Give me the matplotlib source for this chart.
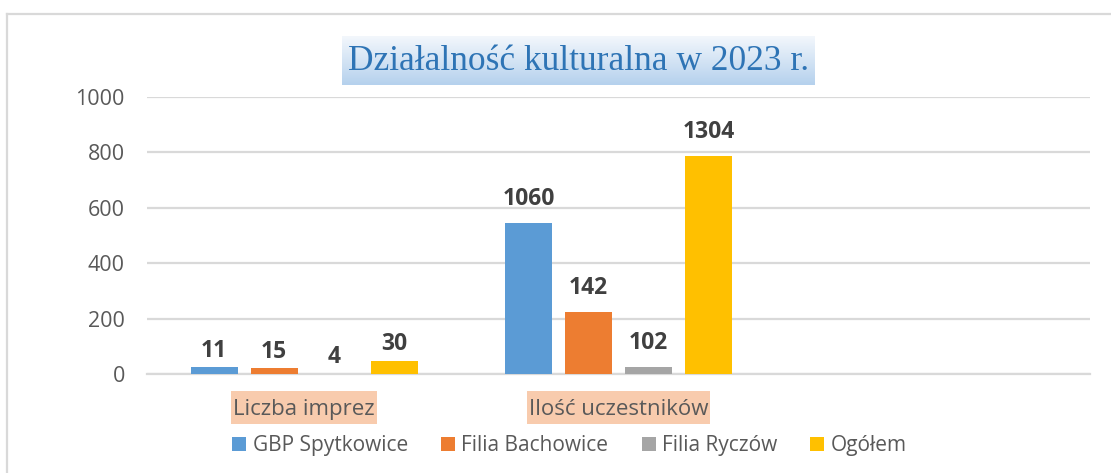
import numpy as np
import matplotlib
matplotlib.use("Agg")
import matplotlib.pyplot as plt
from matplotlib.patches import Patch, Rectangle
from matplotlib.lines import Line2D

# ---- data ----
categories = ["Liczba imprez", "Ilość uczestników"]
series_names = ["GBP Spytkowice", "Filia Bachowice", "Filia Ryczów", "Ogółem"]
# bar heights as drawn in the reference
gbp_heights = [24, 544]
bach_heights = [20, 223]
rycz_heights = [0.5, 24]
ogol_heights = [47, 787]
# data labels as printed in the reference
gbp_labels = [11, 1060]
bach_labels = [15, 142]
rycz_labels = [4, 102]
ogol_labels = [30, 1304]
yticks = [0, 200, 400, 600, 800, 1000]
title = "Działalność kulturalna w 2023 r."

colors = ["#5B9BD5", "#ED7D31", "#A5A5A5", "#FFC000"]
heights = [gbp_heights, bach_heights, rycz_heights, ogol_heights]
labels = [gbp_labels, bach_labels, rycz_labels, ogol_labels]

W, H = 1111, 473
fig = plt.figure(figsize=(W / 100, H / 100), dpi=100)
fig.patch.set_facecolor("white")

def fx(px):
    return px / W

def fy(py):
    return 1 - py / H

# outer frame (left and top edges visible)
fig.add_artist(Line2D([fx(7), fx(7)], [fy(14), 0], color="#D9D9D9", lw=1.6, transform=fig.transFigure))
fig.add_artist(Line2D([fx(7), 1], [fy(14), fy(14)], color="#D9D9D9", lw=1.6, transform=fig.transFigure))

ax = fig.add_axes([fx(147), fy(374), fx(1090) - fx(147), (374 - 97) / H])
ax.set_zorder(2)
ax.set_xlim(-0.5, 2.5)
ax.set_ylim(0, 1000)

bar_w = 0.1495
step = 0.191
x = np.arange(len(categories))
label_offsets_pt = [7.7, 13.1]
for i, (name, h, lab, c) in enumerate(zip(series_names, heights, labels, colors)):
    xs = x + (i - 1.5) * step
    ax.bar(xs, h, width=bar_w, color=c, label=name, zorder=3)
    for j, (xx, hh, ll) in enumerate(zip(xs, h, lab)):
        ax.annotate(str(ll), (xx, hh), xytext=(0, label_offsets_pt[j]), textcoords="offset points",
                    ha="center", va="baseline", fontsize=16.5, fontweight="bold",
                    color="#404040", family="Open Sans", zorder=4)

ax.set_yticks(yticks)
ax.set_yticklabels([str(t) for t in yticks], fontsize=15.5, color="#595959", family="Open Sans")
ax.yaxis.grid(True, color="#D9D9D9", lw=1.6, zorder=0)
ax.tick_params(axis="y", length=0, pad=16)
ax.tick_params(axis="x", length=0, pad=18)
ax.set_xticks(x)
ax.set_xticklabels(categories, fontsize=16, color="#595959", family="Open Sans")
for s in ["top", "right", "left"]:
    ax.spines[s].set_visible(False)
ax.spines["bottom"].set_color("#D9D9D9")
ax.spines["bottom"].set_linewidth(1.6)
ax.set_facecolor("none")

handles = [Patch(facecolor=c, edgecolor="none", label=n) for c, n in zip(colors, series_names)]
leg = ax.legend(handles=handles, loc="center", bbox_to_anchor=(0.448, -0.258), ncol=4,
                frameon=False, handlelength=0.67, handleheight=0.67, handletextpad=0.3,
                columnspacing=1.6, borderpad=0, prop={"family": "Open Sans", "size": 15})
for t in leg.get_texts():
    t.set_color("#595959")

# peach background boxes behind category labels
fig.canvas.draw()
renderer = fig.canvas.get_renderer()
for t in ax.get_xticklabels():
    if not t.get_text():
        continue
    bb = t.get_window_extent(renderer)
    y0 = H - 424
    fig.add_artist(Rectangle((bb.x0 - 2, y0), bb.width + 4, 33, transform=None,
                             facecolor="#F8CBAD", edgecolor="none", zorder=0.5))

# title box with gradient
tax = fig.add_axes([fx(342), fy(85), fx(815) - fx(342), (85 - 36) / H])
top = np.array([0xF3, 0xF7, 0xFC]) / 255
bot = np.array([0xB5, 0xD1, 0xED]) / 255
tt = np.linspace(0, 1, 64)[:, None]
grad = top[None, :] * (1 - tt) + bot[None, :] * tt
tax.imshow(grad[:, None, :], aspect="auto", extent=[0, 1, 0, 1])
tax.set_axis_off()
tax.text(0.5, 0.47, title, ha="center", va="center", fontsize=25.5, color="#2E74B5",
         family="Liberation Serif", transform=tax.transAxes)

fig.savefig("out.png", dpi=100)
